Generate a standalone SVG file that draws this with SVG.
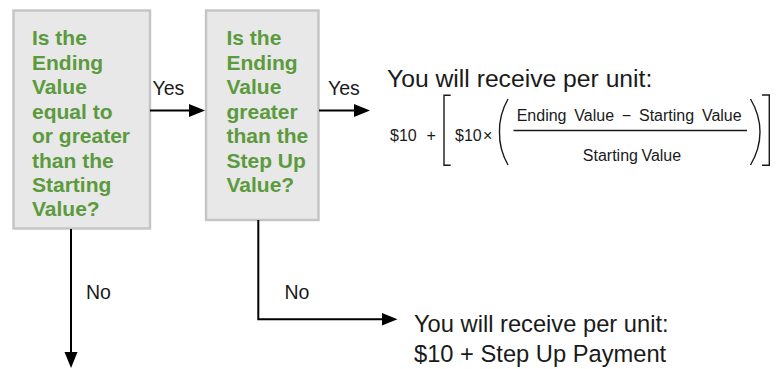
<svg xmlns="http://www.w3.org/2000/svg" width="783" height="369" viewBox="0 0 783 369">
<defs>
<marker id="ah" markerUnits="userSpaceOnUse" markerWidth="18" markerHeight="14" refX="6" refY="6.5" orient="auto">
<path d="M0,0 L16,6.5 L0,13 z" fill="#000"/>
</marker>
<style>
.box{fill:#e8e8e8;stroke:#c4c4c4;stroke-width:2.4}
.q{font-family:"Liberation Sans",Arial,sans-serif;font-weight:bold;font-size:21px;fill:#5b9a3d}
.lbl{font-family:"Liberation Sans",Arial,sans-serif;font-size:19.5px;fill:#1a1a1a}
.out{font-family:"Liberation Sans",Arial,sans-serif;fill:#1a1a1a}
.f{font-family:"Liberation Sans",Arial,sans-serif;font-size:16px;fill:#1a1a1a}
.conn{fill:none;stroke:#000;stroke-width:2}
.br{fill:none;stroke:#1a1a1a;stroke-width:1.4}
</style>
</defs>
<rect width="783" height="369" fill="#fff"/>
<g id="decision1">
<rect class="box" x="13.5" y="10.5" width="136.5" height="218"/>
<text class="q" x="32">
<tspan x="32" y="45">Is the</tspan>
<tspan x="32" y="69.5">Ending</tspan>
<tspan x="32" y="94">Value</tspan>
<tspan x="32" y="118.5">equal to</tspan>
<tspan x="32" y="143">or greater</tspan>
<tspan x="32" y="167.5">than the</tspan>
<tspan x="32" y="192">Starting</tspan>
<tspan x="32" y="216">Value?</tspan>
</text>
</g>
<g id="decision2">
<rect class="box" x="206" y="10.5" width="112.5" height="209.5"/>
<text class="q" x="226.5">
<tspan x="226.5" y="45">Is the</tspan>
<tspan x="226.5" y="69.5">Ending</tspan>
<tspan x="226.5" y="94">Value</tspan>
<tspan x="226.5" y="118.5">greater</tspan>
<tspan x="226.5" y="143">than the</tspan>
<tspan x="226.5" y="167.5">Step Up</tspan>
<tspan x="226.5" y="192">Value?</tspan>
</text>
</g>
<g id="result-yes">
<text class="out" x="387" y="86.5" font-size="24.7">You will receive per unit:</text>
<text class="f" x="390" y="141">$10</text>
<text class="f" x="426.4" y="141">+</text>
<path class="br" d="M450.7,95.3 H444 V165.3 H450.7"/>
<text class="f" x="455" y="141">$10</text>
<text class="f" x="483" y="141" font-size="14">×</text>
<path class="br" d="M508,99 Q499,115 499.5,132 Q499,149 508,165"/>
<text class="f" x="516.7" y="120.5" word-spacing="3.35">Ending Value − Starting Value</text>
<line x1="513.5" y1="130.5" x2="747" y2="130.5" stroke="#1a1a1a" stroke-width="1.3"/>
<text class="f" x="632" y="161" text-anchor="middle" word-spacing="-1">Starting Value</text>
<path class="br" d="M750.5,99 Q760,115 760,132 Q760,149 750.5,165"/>
<path class="br" d="M762,95 H769.3 V165.3 H762"/>
</g>
<g id="result-no">
<text class="out" font-size="23.7">
<tspan x="414" y="331.7">You will receive per unit:</tspan>
<tspan x="414" y="361.5">$10 + Step Up Payment</tspan>
</text>
</g>
<g id="connectors">
<line class="conn" x1="150" y1="110.5" x2="195" y2="110.5" marker-end="url(#ah)"/>
<text class="lbl" x="152.5" y="95">Yes</text>
<line class="conn" x1="319" y1="110.5" x2="360" y2="110.5" marker-end="url(#ah)"/>
<text class="lbl" x="328" y="95">Yes</text>
<line class="conn" x1="71" y1="229" x2="71" y2="358" marker-end="url(#ah)"/>
<text class="lbl" x="86" y="299.3">No</text>
<polyline class="conn" points="258.3,220 258.3,319.3 387.5,319.3" marker-end="url(#ah)"/>
<text class="lbl" x="284.5" y="299.3">No</text>
</g>
</svg>
